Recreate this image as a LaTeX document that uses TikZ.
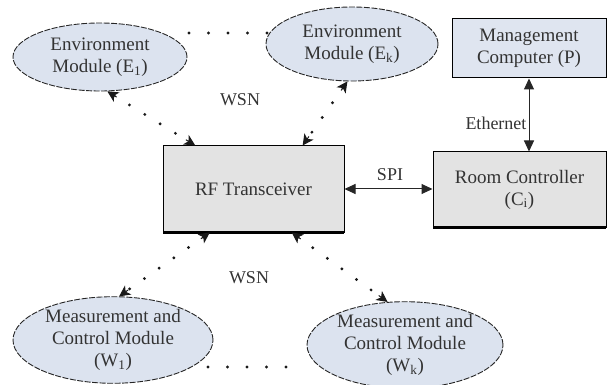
\documentclass[tikz,border=0pt]{standalone}
\usepackage{fontspec}
\setmainfont{Liberation Serif}
\usetikzlibrary{arrows.meta,calc,shapes.geometric}
\definecolor{ellfill}{HTML}{DCE3EF}
\definecolor{boxfill}{HTML}{E3E3E3}
\definecolor{pfill}{HTML}{DFE5F0}
\tikzset{
  every node/.style={font=\fontsize{19}{22}\selectfont, text=black!80, align=center},
  module/.style={ellipse, draw=black!85, dashed, dash pattern=on 6pt off 1.5pt, line width=0.9pt, fill=ellfill, inner sep=0pt},
  block/.style={rectangle, draw=black, line width=1pt, fill=boxfill, inner sep=0pt},
  wireless/.style={line width=3.2pt, line cap=round, dash pattern=on 0pt off 18pt, black!90, shorten <=8pt, shorten >=8pt},
  tipend/.style={line width=1pt, black!90, -{Stealth[length=11pt,width=11pt,inset=3pt]}},
  dotrow/.style={line width=3.2pt, line cap=round, dash pattern=on 0pt off 19.5pt, black!90},
  wired/.style={line width=1pt, black!85, {Triangle[length=11pt,width=10pt]}-{Triangle[length=11pt,width=10pt]}},
  lbl/.style={font=\fontsize{18}{20}\selectfont}
}
\begin{document}
\begin{tikzpicture}[x=1pt,y=-1pt]
\useasboundingbox (0,0) rectangle (608,385);
% nodes
\node[module, minimum width=174pt, minimum height=68pt] (E1) at (100,57) {Environment\\Module (E\textsubscript{1})};
\node[module, minimum width=172pt, minimum height=74pt] (Ek) at (352,44) {Environment\\Module (E\textsubscript{k})};
\node[block, fill=pfill, minimum width=154pt, minimum height=59pt] (P) at (529,48.5) {Management\\Computer (P)};
\node[block, minimum width=173pt, minimum height=75pt] (C) at (519.5,189.5) {Room Controller\\(C\textsubscript{i})};
\node[block, minimum width=181pt, minimum height=86pt] (RF) at (253.5,189) {RF Transceiver};
\node[module, minimum width=200pt, minimum height=76pt] (W1) at (113,340) {Measurement and\\Control Module\\(W\textsubscript{1})};
\node[module, minimum width=196pt, minimum height=76pt] (Wk) at (405,345) {Measurement and\\Control Module\\(W\textsubscript{k})};
% thick bottom edges (shadow)
\draw[line width=3pt] ([xshift=0.5pt]RF.south west) -- ([xshift=-0.5pt]RF.south east);
\draw[line width=3pt] ([xshift=0.5pt]C.south west) -- ([xshift=-0.5pt]C.south east);
% wired links
\draw[wired] (P.south) -- (C.north -| P.south);
\node[lbl, anchor=east] (eth) at (530,123) {Ethernet};
\draw[wired] (RF.east) -- (C.west |- RF.east);
\node[lbl] (spi) at (390,175) {SPI};
% wireless links
\coordinate (rt1) at ($(RF.north west)!0.18!(RF.north east)$);
\coordinate (rt2) at ($(RF.north west)!0.77!(RF.north east)$);
\coordinate (rb1) at ($(RF.south west)!0.26!(RF.south east)$);
\coordinate (rb2) at ($(RF.south west)!0.71!(RF.south east)$);
\coordinate (a1) at (E1.-78);
\coordinate (a2) at (Ek.-97);
\coordinate (a3) at (W1.82);
\coordinate (a4) at (Wk.112);
\draw[wireless] (a1) -- (rt1);
\draw[wireless] (a2) -- (rt2);
\draw[wireless] (rb1) -- (a3);
\draw[wireless] (rb2) -- (a4);
\draw[tipend] ($(a1)!11pt!(rt1)$) -- (a1);
\draw[tipend] ($(rt1)!11pt!(a1)$) -- (rt1);
\draw[tipend] ($(a2)!11pt!(rt2)$) -- (a2);
\draw[tipend] ($(rt2)!11pt!(a2)$) -- (rt2);
\draw[tipend] ($(a3)!11pt!(rb1)$) -- (a3);
\draw[tipend] ($(rb1)!11pt!(a3)$) -- (rb1);
\draw[tipend] ($(a4)!11pt!(rb2)$) -- (a4);
\draw[tipend] ($(rb2)!11pt!(a4)$) -- (rb2);
\node[lbl] (wsn1) at (240,100) {WSN};
\node[lbl] (wsn2) at (249,278) {WSN};
% dotted rows
\coordinate (d1) at (189,33);
\coordinate (d2) at (268,33);
\coordinate (d3) at (208,367);
\coordinate (d4) at (287,367);
\draw[dotrow] (d1) -- (d2);
\draw[dotrow] (d3) -- (d4);
\end{tikzpicture}
\end{document}
